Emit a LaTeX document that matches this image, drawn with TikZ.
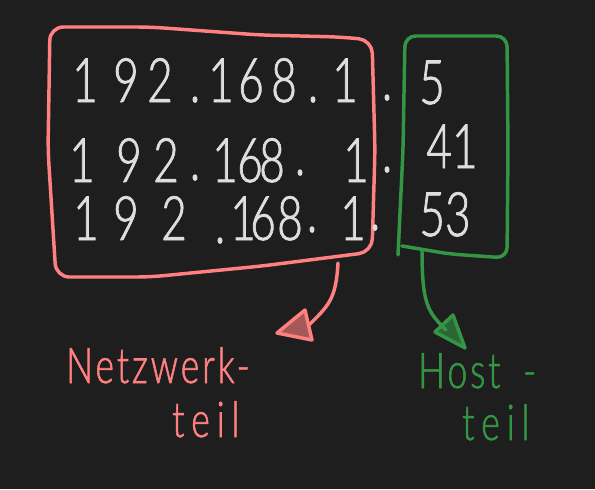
\documentclass[tikz,border=0pt]{standalone}
\usepackage{fontspec}
\newfontfamily\hand[FakeStretch=0.72,FakeBold=1.2]{Lato Light}
\newfontfamily\handlbl[FakeStretch=0.72,FakeBold=1.2,LetterSpace=6]{Lato Light}
\newfontfamily\handwide[FakeStretch=0.72,FakeBold=1.2,LetterSpace=14]{Lato Light}
\definecolor{bgc}{RGB}{30,30,30}
\definecolor{redc}{RGB}{255,128,128}
\definecolor{greenc}{RGB}{52,150,68}
\definecolor{txtc}{RGB}{222,222,222}
\tikzset{
  redline/.style={draw=redc, line width=2.6pt, line cap=round, line join=round},
  greenline/.style={draw=greenc, line width=2.6pt, line cap=round, line join=round},
  digit/.style={text=txtc, font=\hand\fontsize{46}{46}\selectfont, inner sep=0pt, anchor=base},
  redlbl/.style={text=redc, font=\handlbl\fontsize{37}{37}\selectfont, inner sep=0pt, anchor=base west},
  greenlbl/.style={text=greenc, font=\handlbl\fontsize{37}{37}\selectfont, inner sep=0pt, anchor=base west},
  widelbl/.style={font=\handwide\fontsize{37}{37}\selectfont}
}
\begin{document}
\begin{tikzpicture}[x=0.75pt,y=-0.75pt]
\fill[bgc] (0,0) rectangle (595,489);
\useasboundingbox (0,0) rectangle (595,489);
% red box
\draw[redline, rounded corners=10pt] (50,27) -- (150,27) -- (260,35) -- (340,37) -- (372,40) -- (375,150) -- (372,252) -- (262,266) -- (150,277) -- (56,277) -- (48,150) -- cycle;
% green box
\draw[greenline, rounded corners=8pt] (398,255) -- (403,150) -- (405,36) -- (507,36) -- (508,150) -- (507,258) -- (450,254) -- (402,246);
% row 1
\foreach \n/\x/\y/\c in {1/85/102/1, 2/126/102/9, 3/160/102/2, 4/195/102/., 5/221/102/1, 6/251/102/6, 7/284/102/8, 8/313/102/., 9/345/102/1, 10/387/100/.}
  \node[digit] (ra\n) at (\x,\y) {\c};
% row 2
\foreach \n/\x/\y/\c in {1/82/182/1, 2/129/182/9, 3/166/182/2, 4/195/180/., 5/225/182/1, 6/250/182/6, 7/272/182/8, 8/300/175/., 9/356/182/1, 10/387/172/.}
  \node[digit] (rb\n) at (\x,\y) {\c};
% row 3
\foreach \n/\x/\y/\c in {1/86/240/1, 2/126/240/9, 3/174/240/2, 4/220/243/., 5/243/240/1, 6/263/240/6, 7/290/240/8, 8/312/232/., 9/353/240/1, 10/375/230/.}
  \node[digit] (rc\n) at (\x,\y) {\c};
% host parts
\node[digit] (h1) at (432,104) {5};
\node[digit] (h2) at (452,168) {41};
\node[digit] (h3) at (445,236) {53};
% labels
\node[redlbl] (nw) at (66,383) {Netzwerk-};
\node[redlbl, widelbl] (nt) at (172,437) {teil};
\node[greenlbl] (hs) at (418,388) {Host\hspace{17pt}-};
\node[greenlbl, widelbl] (ht) at (462,440) {teil};
% arrows
\coordinate (rs) at (338,263);
\coordinate (re) at (308,326);
\coordinate (gs) at (422,250);
\coordinate (ge) at (446,330);
\draw[redline] (rs) .. controls (336,300) and (328,306) .. (re);
\draw[redline, fill=redc, fill opacity=0.6] (277,333) -- (305,310) -- (312,340) -- cycle;
\draw[greenline] (gs) .. controls (422,305) and (428,312) .. (ge);
\draw[greenline, fill=greenc, fill opacity=0.6] (435,332) -- (453,315) -- (465,348) -- cycle;
\end{tikzpicture}
\end{document}
